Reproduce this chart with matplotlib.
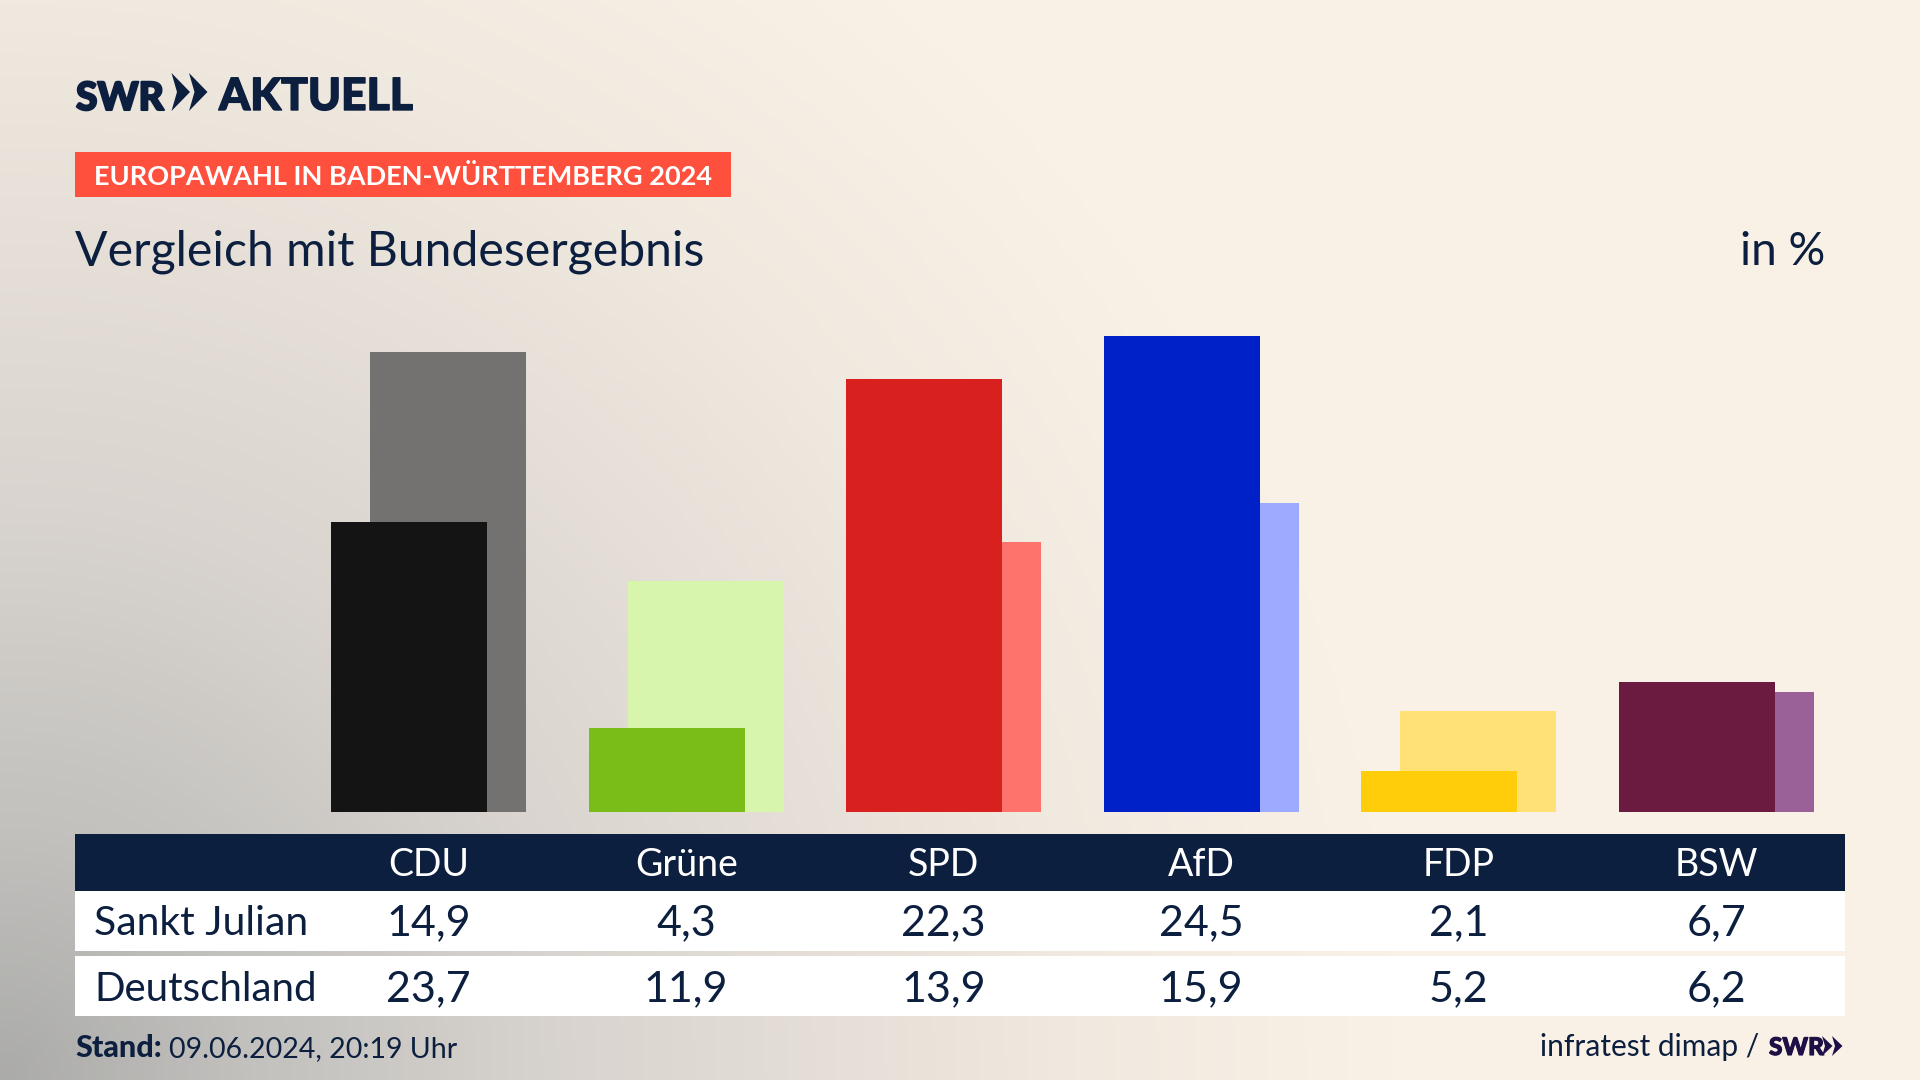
import numpy as np
import matplotlib
matplotlib.use("Agg")
import matplotlib.pyplot as plt
import matplotlib.patheffects as pe
from matplotlib.colors import LinearSegmentedColormap
from matplotlib.patches import Polygon, Rectangle

parties = ["CDU", "Grüne", "SPD", "AfD", "FDP", "BSW"]
sankt_julian = [14.9, 4.3, 22.3, 24.5, 2.1, 6.7]
deutschland = [23.7, 11.9, 13.9, 15.9, 5.2, 6.2]
row_names = ["Sankt Julian", "Deutschland"]
front_colors = ["#141414", "#7ABD19", "#D8201E", "#0020C8", "#FFCD0A", "#6B1A40"]
back_colors = ["#737270", "#D7F5AB", "#FF736D", "#9CABFF", "#FFE175", "#9A6098"]

NAVY = "#0C1F3F"
FONT = "Lato"
W, H = 1920, 1080
fig = plt.figure(figsize=(19.2, 10.8), dpi=100)

# page in pixel coordinates
bg = fig.add_axes([0, 0, 1, 1])
bg.set_xlim(0, W); bg.set_ylim(H, 0); bg.axis("off")
yy, xx = np.mgrid[0:H:270j, 0:W:480j]
d = np.clip(np.sqrt((xx / 1400.0) ** 2 + ((H - yy) / 1400.0) ** 2), 0, 1)
cmap = LinearSegmentedColormap.from_list(
    "page", [(0, "#ABABA9"), (0.18, "#C2C1BE"), (0.41, "#D9D4CF"), (0.77, "#F0E9DF"), (1, "#FAF1E6")])
bg.imshow(d, cmap=cmap, vmin=0, vmax=1, extent=[0, W, H, 0], aspect="auto", zorder=0)
bg.set_xlim(0, W); bg.set_ylim(H, 0)

def txt(x, y, s, size, color=NAVY, weight="normal", ha="left", family=FONT, stroke=0):
    t = bg.text(x, y, s, fontsize=size, color=color, fontweight=weight, ha=ha, va="baseline",
                family=family, zorder=5)
    if stroke:
        t.set_path_effects([pe.withStroke(linewidth=stroke, foreground=color)])

def chevrons(x, top, bottom, w, notch, gap, color):
    mid = (top + bottom) / 2
    for k in range(2):
        x0 = x + k * gap
        bg.add_patch(Polygon([(x0, top), (x0 + w, mid), (x0, bottom), (x0 + notch, mid)],
                             closed=True, fc=color, ec="none", zorder=5))

# logo
txt(76, 110, "SWR", 28, weight="black", stroke=1.5)
chevrons(171.5, 73, 111, 18.5, 5.5, 17.5, NAVY)
txt(219, 110, "AKTUELL", 32, weight="black", stroke=1.0)

# heading
bg.add_patch(Rectangle((75, 152), 656, 45, fc="#FF4F3D", ec="none", zorder=2))
txt(94, 185, "EUROPAWAHL IN BADEN-WÜRTTEMBERG 2024", 19.5, color="white", weight="bold")
txt(75, 265, "Vergleich mit Bundesergebnis", 34.7)
txt(1825, 265, "in %", 33, ha="right")

# chart
PITCH, C0, PXU, BASE = 257.5, 428.7, 19.43, 812
ax = fig.add_axes([75 / W, (H - BASE) / H, 1770 / W, 512 / H])
ax.set_xlim((75 - C0) / PITCH, (1845 - C0) / PITCH)
ax.set_ylim(0, 512 / PXU)
ax.axis("off")
x = np.arange(len(parties))
bar_w, off = 156 / PITCH, 19.5 / PITCH
ax.bar(x + off, deutschland, bar_w, color=back_colors, zorder=2)
ax.bar(x - off, sankt_julian, bar_w, color=front_colors, zorder=3)

# table
bg.add_patch(Rectangle((75, 834), 1770, 57, fc=NAVY, ec="none", zorder=2))
bg.add_patch(Rectangle((75, 891), 1770, 60, fc="white", ec="none", zorder=2))
bg.add_patch(Rectangle((75, 956), 1770, 60, fc="white", ec="none", zorder=2))
for i, p in enumerate(parties):
    cx = C0 + i * PITCH
    txt(cx, 876, p, 27, color="white", ha="center")
    txt(cx, 935, f"{sankt_julian[i]:.1f}".replace(".", ","), 31, ha="center")
    txt(cx, 1001, f"{deutschland[i]:.1f}".replace(".", ","), 31, ha="center")
txt(94, 935, row_names[0], 29.5)
txt(94, 1001, row_names[1], 29)

# footer
txt(75, 1057, "Stand:", 22, weight="black")
txt(169, 1057, "09.06.2024, 20:19 Uhr", 20.5)
txt(1759, 1056, "infratest dimap /", 21.5, ha="right")
PURPLE = "#1E0F46"
txt(1769, 1055, "SWR", 17.5, color=PURPLE, weight="black", stroke=0.8)
chevrons(1822, 1036, 1056, 10.5, 3, 10, PURPLE)

fig.savefig("out.png", dpi=100)
